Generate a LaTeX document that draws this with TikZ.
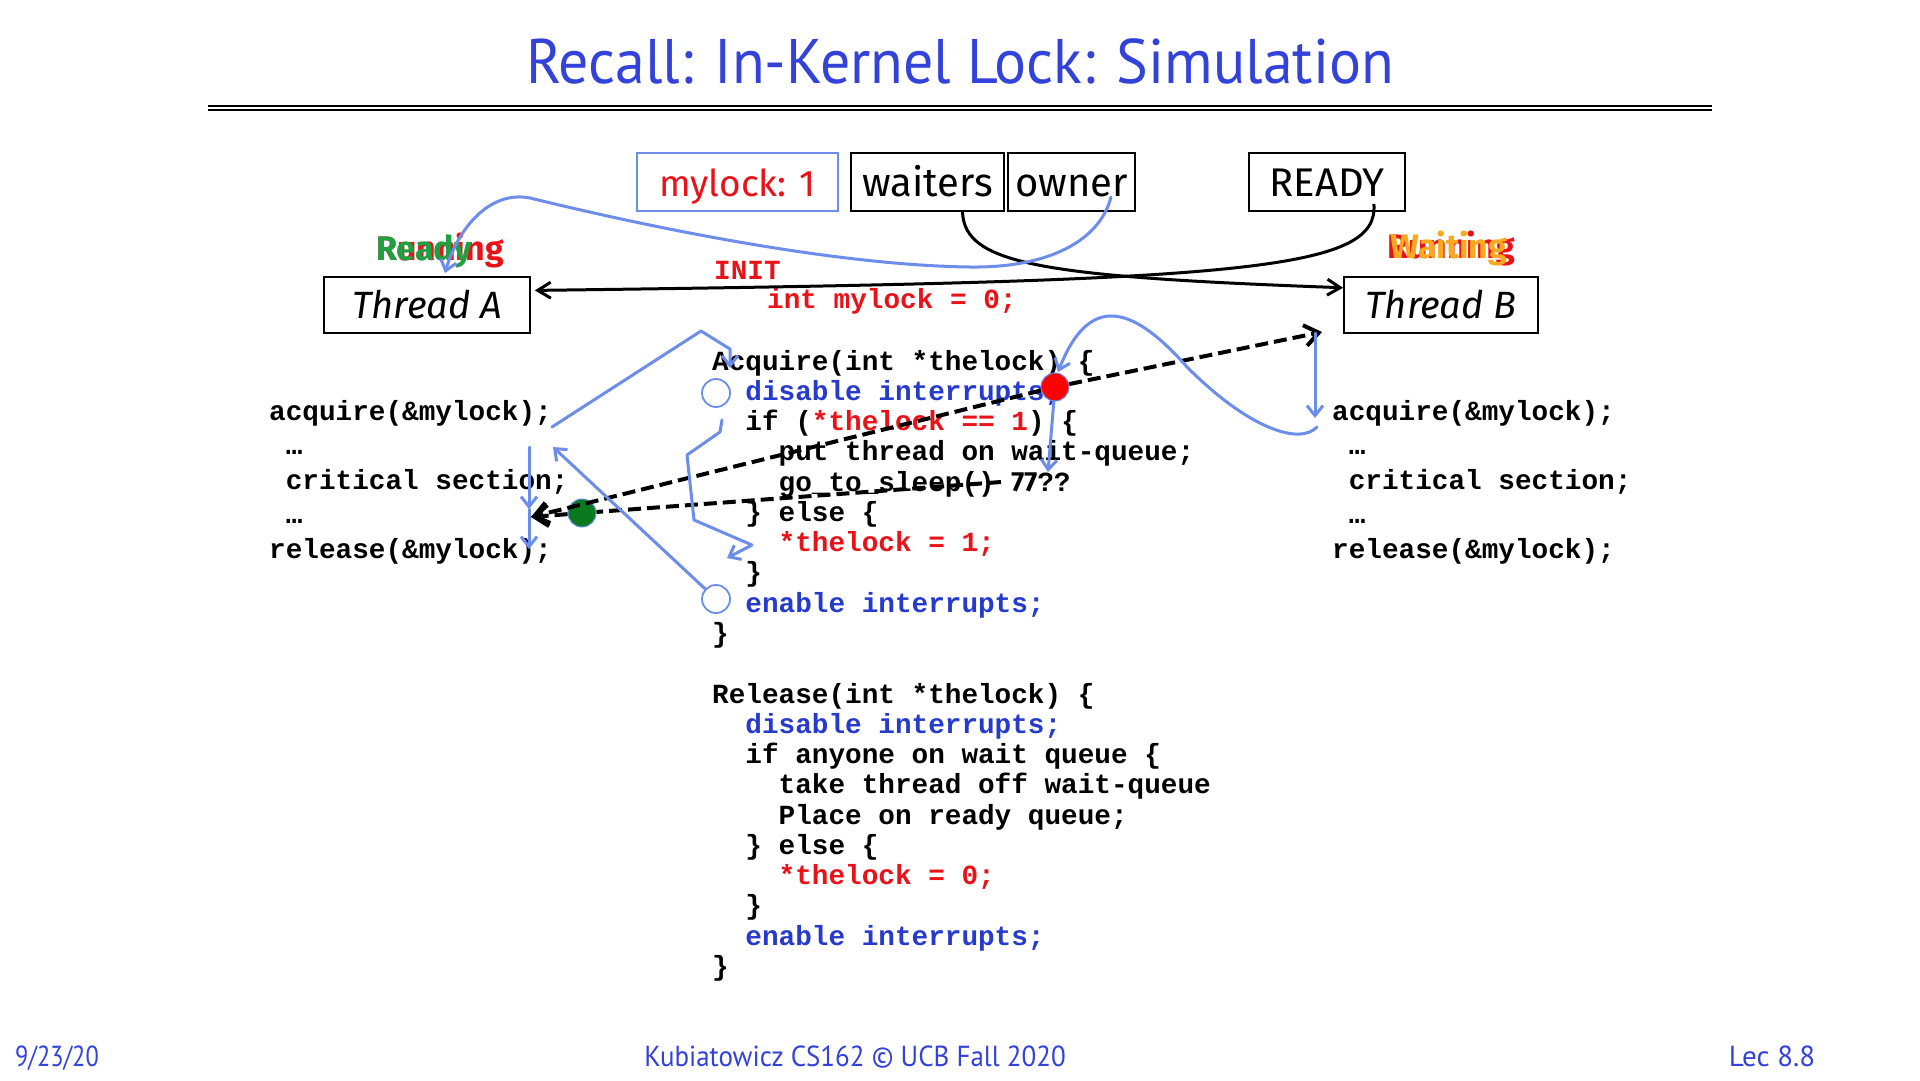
\documentclass[tikz,border=0pt]{standalone}
\usepackage{fontspec}
\setmainfont{PT Sans}
\setmonofont{Liberation Mono}
\newfontfamily\comicfont{Fira Sans}
\usetikzlibrary{arrows.meta}

\definecolor{slideblue}{RGB}{51,66,217}
\definecolor{codeblue}{RGB}{38,58,204}
\definecolor{inkblue}{RGB}{108,142,234}
\definecolor{codered}{RGB}{232,18,24}
\definecolor{readygreen}{RGB}{32,160,66}
\definecolor{waitorange}{RGB}{247,170,30}
\definecolor{dotgreen}{RGB}{10,122,30}

\begin{document}
\begin{tikzpicture}[x=1pt, y=-1pt]
	\tikzstyle{box}    = [draw=black, line width=1.8pt, minimum height=58pt, inner sep=0pt, text height=28pt, text depth=0pt, font=\comicfont\fontsize{40}{40}\selectfont]
	\tikzstyle{thread} = [box, minimum height=56pt, text height=26pt, font=\comicfont\itshape\fontsize{38}{38}\selectfont]
	\tikzstyle{mood}   = [anchor=base west, inner sep=0pt, font=\comicfont\bfseries\fontsize{34}{34}\selectfont]
	\tikzstyle{src}    = [anchor=base west, inner sep=0pt, font=\ttfamily\bfseries\fontsize{27.7}{27.7}\selectfont]
	\tikzstyle{link}   = [line width=3pt, ->, >={Straight Barb[length=13pt,width=16pt]}]
	\tikzstyle{ink}    = [draw=inkblue, line width=3pt, line cap=round, line join=round, >={Straight Barb[length=10pt,width=16pt]}]
	\tikzstyle{flow}   = [draw=black, line width=4pt, dash pattern=on 13pt off 6pt, >={Straight Barb[length=14pt,width=21pt]}]
	\tikzstyle{hole}   = [circle, draw=inkblue, fill=white, line width=1.8pt, minimum size=28pt, inner sep=0pt]
	\tikzstyle{blob}   = [circle, draw=inkblue, line width=1pt, minimum size=28pt, inner sep=0pt]
	\tikzstyle{footer} = [anchor=base, inner sep=0pt, text=slideblue, font=\fontsize{29}{29}\selectfont]

	\useasboundingbox (0,0) rectangle (1920,1080);
	\fill[white] (0,0) rectangle (1920,1080);

	% title
	\node[anchor=base, inner sep=0pt, xscale=0.95, text=slideblue, font=\fontsize{63}{63}\selectfont] (title) at (960,83) {Recall: In-Kernel Lock: Simulation};
	\draw[line width=1.7pt] (208,106.3) -- (1712,106.3) (208,109.8) -- (1712,109.8);

	% lock state
	\node[box, draw=inkblue, line width=1.4pt, minimum width=201pt, text=codered, font=\comicfont\fontsize{37}{37}\selectfont] (mylock) at (737.5,182) {mylock: 1};
	\node[box, minimum width=153pt] (waiters) at (927.5,182) {waiters};
	\node[box, minimum width=127pt] (owner)   at (1071.5,182) {owner};
	\node[box, minimum width=156pt] (ready)   at (1327,182) {READY};

	% threads
	\node[thread, minimum width=206pt] (thA) at (427,305) {Thread A};
	\node[thread, minimum width=194pt] (thB) at (1441,305) {Thread B};
	\node[mood, text=codered]    (runA)  at (376,260) {Running};
	\node[mood, text=readygreen] (rdyA)  at (376,260) {Ready};
	\node[mood, text=codered]    (runB)  at (1387,258) {Running};
	\node[mood, text=waitorange] (waitB) at (1390,258) {Waiting};

	\node[src, text=codered] (init)    at (714,279) {INIT};
	\node[src, text=codered] (initval) at (767,308) {int mylock = 0;};

	\draw[link] ([xshift=35pt]waiters.south) .. controls +(2,52) and +(-304,-11) .. (thB.170);
	\draw[link] ([xshift=-32pt,yshift=8pt]ready.south east) .. controls +(5,67) and +(715,-9) .. ([xshift=4pt]thA.8);

	% thread code
	\foreach \side/\x in {A/269, B/1332}
		\foreach \i/\d/\t in {0/0/{acquire(\&mylock);}, 1/1/{…}, 2/1/{critical section;}, 3/1/{…}, 4/0/{release(\&mylock);}}
			\node[src] (\side\i) at (\x+16.62*\d, 420+34.5*\i) {\t};

	% Acquire
	\foreach \i/\d/\t in {0/0/{Acquire(int *thelock) \{},
			1/2/{\textcolor{codeblue}{disable interrupts;}},
			2/2/{if (\textcolor{codered}{*thelock == 1}) \{},
			3/4/{put thread on wait-queue;},
			4/4/{go\_to\_sleep() {\comicfont\bfseries 77}??},
			5/2/{\} else \{},
			6/4/{\textcolor{codered}{*thelock = 1;}},
			7/2/{\}},
			8/2/{\textcolor{codeblue}{enable interrupts;}},
			9/0/{\}}}
		\node[src] (acq\i) at (712+16.62*\d, 370+30.25*\i) {\t};

	% Release
	\foreach \i/\d/\t in {0/0/{Release(int *thelock) \{},
			1/2/{\textcolor{codeblue}{disable interrupts;}},
			2/2/{if anyone on wait queue \{},
			3/4/{take thread off wait-queue},
			4/4/{Place on ready queue;},
			5/2/{\} else \{},
			6/4/{\textcolor{codered}{*thelock = 0;}},
			7/2/{\}},
			8/2/{\textcolor{codeblue}{enable interrupts;}},
			9/0/{\}}}
		\node[src] (rel\i) at (712+16.62*\d, 703+30.25*\i) {\t};

	% simulation marks
	\node[hole] (disOn) at (716,393) {};
	\node[hole] (enOn)  at (716,599) {};
	\node[blob, fill=red] (wake) at (1055,387) {};
	\node[blob, fill=dotgreen] (sleep) at (582,513) {};
	\coordinate (intoA) at (531,517);
	\coordinate (intoB) at (1322,332);
	\coordinate (sleepAt) at (1001,482);

	\draw[flow, ->] (wake) -- (intoB);
	\draw[flow, ->] (wake) -- (intoA);
	\draw[flow] (sleepAt) -- (sleep);
	\draw[flow, ->] (sleep) -- (intoA);

	% blue traces
	\draw[ink, ->] (1111,197) .. controls (1100,240) and (1050,268) .. (970,267)
		.. controls (820,265) and (620,220) .. (530,198)
		.. controls (490,190) and (458,228) .. (445,273);
	\draw[ink, ->] (552,427) -- (701,331) -- (730,349) -- (730,368);
	\draw[ink, ->] (722,420) -- (720,432) -- (687,455) -- (694,520) -- (752,545) -- (727,558);
	\draw[ink, ->] (enOn) -- (553,447);
	\draw[ink, ->] (529,447) -- (529,509);
	\draw[ink, ->] (529,509) -- (529,549);
	\draw[ink, ->] (1315,333) -- (1315,418);
	\draw[ink, ->] (1317,427) .. controls (1300,445) and (1250,430) .. (1187,367)
		.. controls (1135,308) and (1090,290) .. (1058,372);
	\draw[ink, ->] (wake) -- (1048,472);

	% footer
	\node[footer, anchor=base west, xscale=0.84] (date) at (15,1066) {9/23/20};
	\node[footer, xscale=0.93] (credit) at (855,1066) {Kubiatowicz CS162 © UCB Fall 2020};
	\node[footer] (lec) at (1772,1066) {Lec 8.8};
\end{tikzpicture}
\end{document}
